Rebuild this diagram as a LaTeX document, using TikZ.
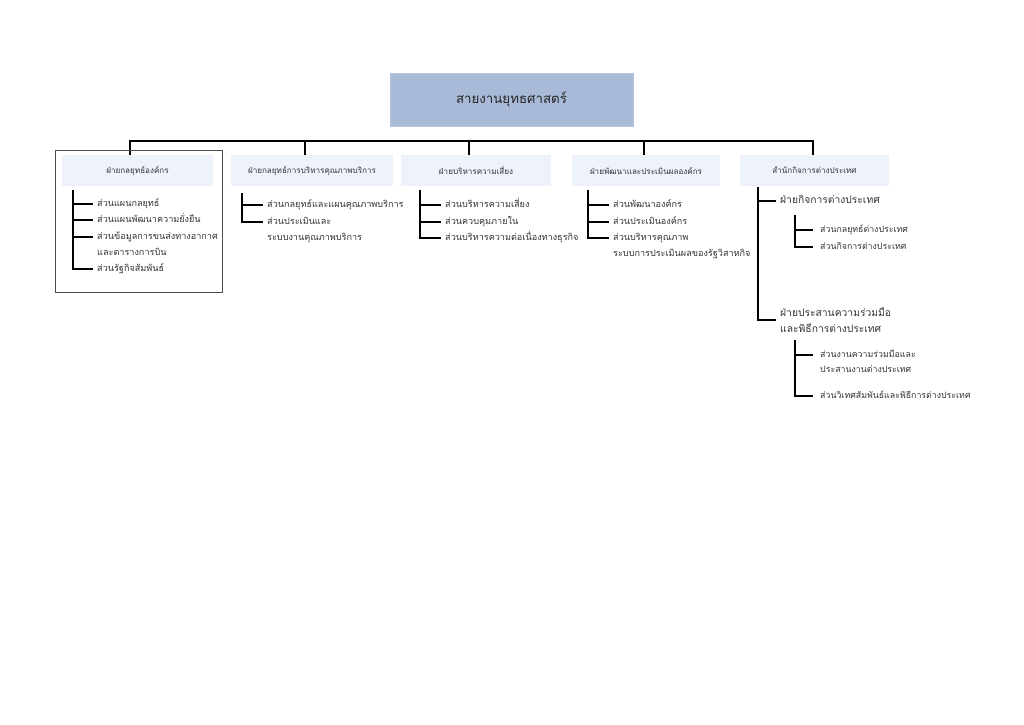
\documentclass[tikz,border=0pt]{standalone}
\usepackage{fontspec}
\newfontfamily\thaifont[Script=Thai]{Loma}
\usetikzlibrary{positioning}
\definecolor{headblue}{HTML}{A9BAD8}
\definecolor{unitblue}{HTML}{EEF2FB}
\newcommand{\twolines}[2]{\begin{tabular}[t]{@{}l@{}}#1\\#2\end{tabular}}

\begin{document}
\begin{tikzpicture}[x=1pt,y=-1pt,
  head/.style={fill=headblue, draw=headblue!85!white, minimum width=243pt, minimum height=53pt, text=black!85, font=\thaifont\fontsize{13.3}{16}\selectfont},
  unit/.style={fill=unitblue, minimum width=150pt, minimum height=31pt, text=black!80, font=\thaifont\fontsize{8.1}{10}\selectfont},
  item/.style={anchor=mid west, inner xsep=4pt, inner ysep=0pt, text=black!80, font=\thaifont\fontsize{9.1}{16}\selectfont},
  dept/.style={item, align=left, font=\thaifont\fontsize{10.3}{16}\selectfont},
  sub/.style={item, inner xsep=7pt, font=\thaifont\fontsize{8.8}{15}\selectfont},
  tree/.style={line width=2pt}]
\useasboundingbox (0,0) rectangle (1024,724);

\node[head] (strat) at (511.5,99.5) {สายงานยุทธศาสตร์};

\node[unit, minimum width=151pt] (u1) at (137.5,170.5) {ฝ่ายกลยุทธ์องค์กร};
\node[unit, minimum width=162pt] (u2) at (312,170.5) {ฝ่ายกลยุทธ์การบริหารคุณภาพบริการ};
\node[unit] (u3) at (476,170.5) {ฝ่ายบริหารความเสี่ยง};
\node[unit, minimum width=148pt] (u4) at (646,170.5) {ฝ่ายพัฒนาและประเมินผลองค์กร};
\node[unit, minimum width=149pt] (u5) at (814.5,170.5) {สำนักกิจการต่างประเทศ};

% bus
\coordinate (d1) at (130,141);
\coordinate (d2) at (305,141);
\coordinate (d3) at (469,141);
\coordinate (d4) at (644,141);
\coordinate (d5) at (813,141);
\draw[tree] (d1 |- u1.north) -- (d1) -- (d5) -- (d5 |- u5.north);
\foreach \i in {2,3,4}
  \draw[tree] (d\i) -- (d\i |- u\i.north);

\draw[black!70, line width=1pt] (55,150) rectangle (222,292);

% column 1
\node[item] (a1) at (93,204) {ส่วนแผนกลยุทธ์};
\node[item] (a2) at (93,220) {ส่วนแผนพัฒนาความยั่งยืน};
\node[item] (a3) at (93,237) {\twolines{ส่วนข้อมูลการขนส่งทางอากาศ}{และตารางการบิน}};
\node[item] (a4) at (93,269) {ส่วนรัฐกิจสัมพันธ์};
\coordinate (t1) at (73,190);
\draw[tree] (t1) |- (a4.mid west);
\foreach \n in {a1,a2,a3}
  \draw[tree] (t1 |- \n.mid west) -- (\n.mid west);

% column 2
\node[item] (b1) at (263,205) {ส่วนกลยุทธ์และแผนคุณภาพบริการ};
\node[item] (b2) at (263,222) {\twolines{ส่วนประเมินและ}{ระบบงานคุณภาพบริการ}};
\coordinate (t2) at (242,193);
\draw[tree] (t2) |- (b2.mid west);
\draw[tree] (t2 |- b1.mid west) -- (b1.mid west);

% column 3
\node[item] (c1) at (441,205) {ส่วนบริหารความเสี่ยง};
\node[item] (c2) at (441,222) {ส่วนควบคุมภายใน};
\node[item] (c3) at (441,238) {ส่วนบริหารความต่อเนื่องทางธุรกิจ};
\coordinate (t3) at (420,190);
\draw[tree] (t3) |- (c3.mid west);
\foreach \n in {c1,c2}
  \draw[tree] (t3 |- \n.mid west) -- (\n.mid west);

% column 4
\node[item] (e1) at (609,205) {ส่วนพัฒนาองค์กร};
\node[item] (e2) at (609,222) {ส่วนประเมินองค์กร};
\node[item] (e3) at (609,238) {\twolines{ส่วนบริหารคุณภาพ}{ระบบการประเมินผลของรัฐวิสาหกิจ}};
\coordinate (t4) at (588,190);
\draw[tree] (t4) |- (e3.mid west);
\foreach \n in {e1,e2}
  \draw[tree] (t4 |- \n.mid west) -- (\n.mid west);

% column 5
\node[dept] (f1) at (776,201) {ฝ่ายกิจการต่างประเทศ};
\node[dept, anchor=west] (f2) at (776,320) {ฝ่ายประสานความร่วมมือ\\และพิธีการต่างประเทศ};
\coordinate (t5) at (758,187);
\draw[tree] (t5) |- (f2.west);
\draw[tree] (t5 |- f1.mid west) -- (f1.mid west);

\node[sub] (g1) at (813,230) {ส่วนกลยุทธ์ต่างประเทศ};
\node[sub] (g2) at (813,247) {ส่วนกิจการต่างประเทศ};
\coordinate (t6) at (795,215);
\draw[tree] (t6) |- (g2.mid west);
\draw[tree] (t6 |- g1.mid west) -- (g1.mid west);

\node[sub] (h1) at (813,355) {\twolines{ส่วนงานความร่วมมือและ}{ประสานงานต่างประเทศ}};
\node[sub] (h2) at (813,396) {ส่วนวิเทศสัมพันธ์และพิธีการต่างประเทศ};
\coordinate (t7) at (795,340);
\draw[tree] (t7) |- (h2.mid west);
\draw[tree] (t7 |- h1.mid west) -- (h1.mid west);
\end{tikzpicture}
\end{document}
